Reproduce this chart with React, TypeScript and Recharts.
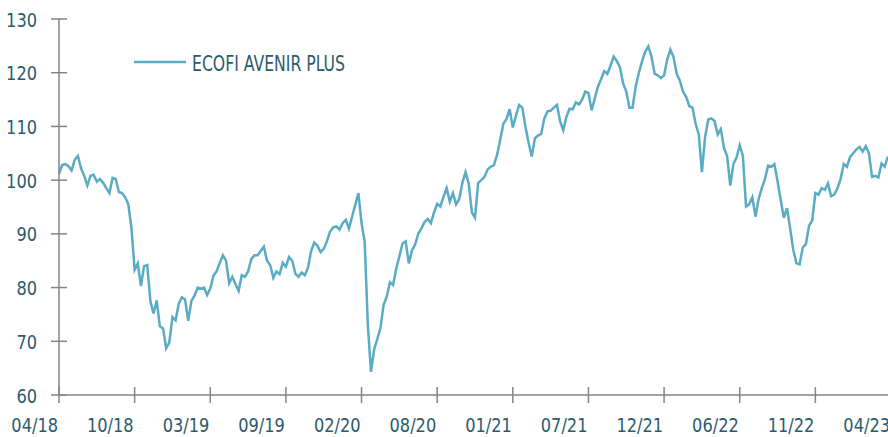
import { LineChart, Line, XAxis, YAxis, Legend } from 'recharts';

// weekly values, 04/2018 -> 04/2023
const VALUES = [
  101.2, 102.8, 103.0, 102.6, 101.8, 103.8, 104.5, 102.2, 100.8, 99.0,
  100.8, 101.0, 99.7, 100.2, 99.5, 98.5, 97.6, 100.4, 100.2, 97.8,
  97.6, 96.8, 95.5, 91.0, 83.3, 84.5, 80.3, 84.0, 84.2, 77.5,
  75.2, 77.6, 72.8, 72.4, 68.7, 69.8, 74.5, 73.9, 77.0, 78.2,
  77.8, 73.8, 77.5, 78.5, 80.0, 79.8, 80.0, 78.6, 79.8, 82.2,
  83.0, 84.6, 86.0, 85.0, 80.8, 82.0, 80.6, 79.4, 82.3, 82.0,
  83.0, 85.3, 86.0, 86.0, 86.8, 87.6, 85.0, 84.2, 81.8, 83.0,
  82.5, 84.6, 83.9, 85.7, 85.0, 82.6, 82.0, 82.8, 82.3, 83.7,
  86.8, 88.4, 87.8, 86.6, 87.2, 88.6, 90.4, 91.2, 91.4, 90.8,
  92.0, 92.6, 91.0, 93.2, 95.4, 97.6, 92.0, 88.5, 73.0, 64.3,
  68.5, 70.4, 72.5, 76.8, 78.3, 81.0, 80.5, 83.5, 85.8, 88.2,
  88.6, 84.5, 86.9, 88.0, 90.0, 91.0, 92.2, 92.8, 92.0, 94.0,
  95.6, 95.1, 96.9, 98.5, 96.0, 97.6, 95.5, 96.5, 99.5, 101.5,
  99.4, 94.0, 93.0, 99.5, 100.0, 100.6, 102.0, 102.5, 102.8, 104.7,
  107.5, 110.5, 111.4, 113.2, 109.8, 112.0, 114.0, 113.5, 110.0, 107.0,
  104.4, 107.8, 108.3, 108.6, 111.5, 112.8, 112.9, 113.5, 114.0, 111.0,
  109.3, 111.8, 113.3, 113.2, 114.5, 114.1, 115.0, 116.5, 116.2, 113.0,
  115.2, 117.4, 118.8, 120.3, 119.8, 121.3, 123.0, 122.2, 121.0, 118.0,
  116.5, 113.5, 113.5, 117.5, 120.0, 122.1, 123.9, 124.9, 123.0, 119.8,
  119.5, 119.0, 119.5, 122.5, 124.3, 122.9, 119.8, 118.5, 116.5, 115.5,
  113.8, 113.5, 110.5, 108.5, 101.5, 108.0, 111.3, 111.5, 111.0, 108.5,
  109.5, 106.0, 104.5, 99.0, 103.0, 104.2, 106.5, 104.5, 95.1, 95.5,
  96.8, 93.2, 96.5, 98.5, 100.2, 102.7, 102.5, 103.0, 99.8, 96.3,
  93.0, 94.8, 91.0, 87.0, 84.5, 84.3, 87.5, 88.1, 91.5, 92.5,
  97.6, 97.3, 98.5, 98.2, 99.4, 97.0, 97.3, 98.5, 100.2, 103.0,
  102.5, 104.3, 105.0, 105.7, 106.2, 105.3, 106.3, 105.0, 100.6, 100.8,
  100.5, 103.1, 102.5, 104.4,
];

const X_TICK_LABELS = [
  '04/18', '10/18', '03/19', '09/19', '02/20', '08/20',
  '01/21', '07/21', '12/21', '06/22', '11/22', '04/23',
];
const WEEKS_PER_TICK = 24;
const Y_TICKS = [60, 70, 80, 90, 100, 110, 120, 130];
const SERIES_NAME = 'ECOFI AVENIR PLUS';

const LINE_COLOR = '#5aabc4';
const AXIS_COLOR = '#858585';
const TEXT_COLOR = '#2d5b6b';
const FONT = '"Liberation Sans Narrow", "DejaVu Sans Condensed", Roboto, sans-serif';
// the original uses a narrow face, squeeze ours a little
const SQUEEZE = 0.9;

const data = VALUES.map((v, i) => ({ week: i, value: v }));
const xTicks = X_TICK_LABELS.map((_, k) => k * WEEKS_PER_TICK);

function XTick(props: any) {
  const { x, y, payload } = props;
  const label = X_TICK_LABELS[Math.round(payload.value / WEEKS_PER_TICK)];
  return (
    <g>
      <line x1={x} x2={x} y1={y - 8} y2={y + 8} stroke={AXIS_COLOR} strokeWidth={1.5} />
      <text
        transform={`translate(${x - 1},${y + 37}) scale(${SQUEEZE},1)`}
        textAnchor="end"
        fill={TEXT_COLOR}
        fontSize={20}
        fontFamily={FONT}
      >
        {label}
      </text>
    </g>
  );
}

function YTick(props: any) {
  const { x, y, payload } = props;
  return (
    <g>
      <line x1={x - 8} x2={x + 8} y1={y} y2={y} stroke={AXIS_COLOR} strokeWidth={1.5} />
      <text
        transform={`translate(${x - 22},${y + 7.5}) scale(${SQUEEZE},1)`}
        textAnchor="end"
        fill={TEXT_COLOR}
        fontSize={20}
        fontFamily={FONT}
      >
        {payload.value}
      </text>
    </g>
  );
}

function renderLegend() {
  return (
    <svg width={400} height={90}>
      <line x1={134} x2={186} y1={62} y2={62} stroke={LINE_COLOR} strokeWidth={2.5} />
      <text
        x={192}
        y={70.5}
        fill={TEXT_COLOR}
        fontSize={21}
        fontFamily={FONT}
        textLength={153}
        lengthAdjust="spacingAndGlyphs"
      >
        {SERIES_NAME}
      </text>
    </svg>
  );
}

export default function App() {
  return (
    <div
      style={{
        position: 'absolute',
        left: 0,
        top: 0,
        width: 888,
        height: 437,
        overflow: 'hidden',
        background: '#fff',
      }}
    >
      <LineChart width={900} height={437} data={data} margin={{ top: 19, right: 9, bottom: 0, left: 0 }}>
        <XAxis
          dataKey="week"
          type="number"
          domain={[0, 264]}
          ticks={xTicks}
          interval={0}
          height={42}
          tickSize={0}
          tickMargin={0}
          tickLine={false}
          axisLine={{ stroke: AXIS_COLOR, strokeWidth: 1.5 }}
          tick={<XTick />}
        />
        <YAxis
          type="number"
          domain={[60, 130]}
          ticks={Y_TICKS}
          interval={0}
          width={59}
          tickSize={0}
          tickMargin={0}
          tickLine={false}
          axisLine={{ stroke: AXIS_COLOR, strokeWidth: 1.5 }}
          tick={<YTick />}
        />
        <Legend
          verticalAlign="middle"
          align="center"
          layout="horizontal"
          content={renderLegend}
          wrapperStyle={{ left: 0, top: 0, width: 400, height: 90 }}
        />
        <Line
          type="linear"
          dataKey="value"
          name={SERIES_NAME}
          stroke={LINE_COLOR}
          strokeWidth={2.5}
          dot={false}
          isAnimationActive={false}
        />
      </LineChart>
    </div>
  );
}
